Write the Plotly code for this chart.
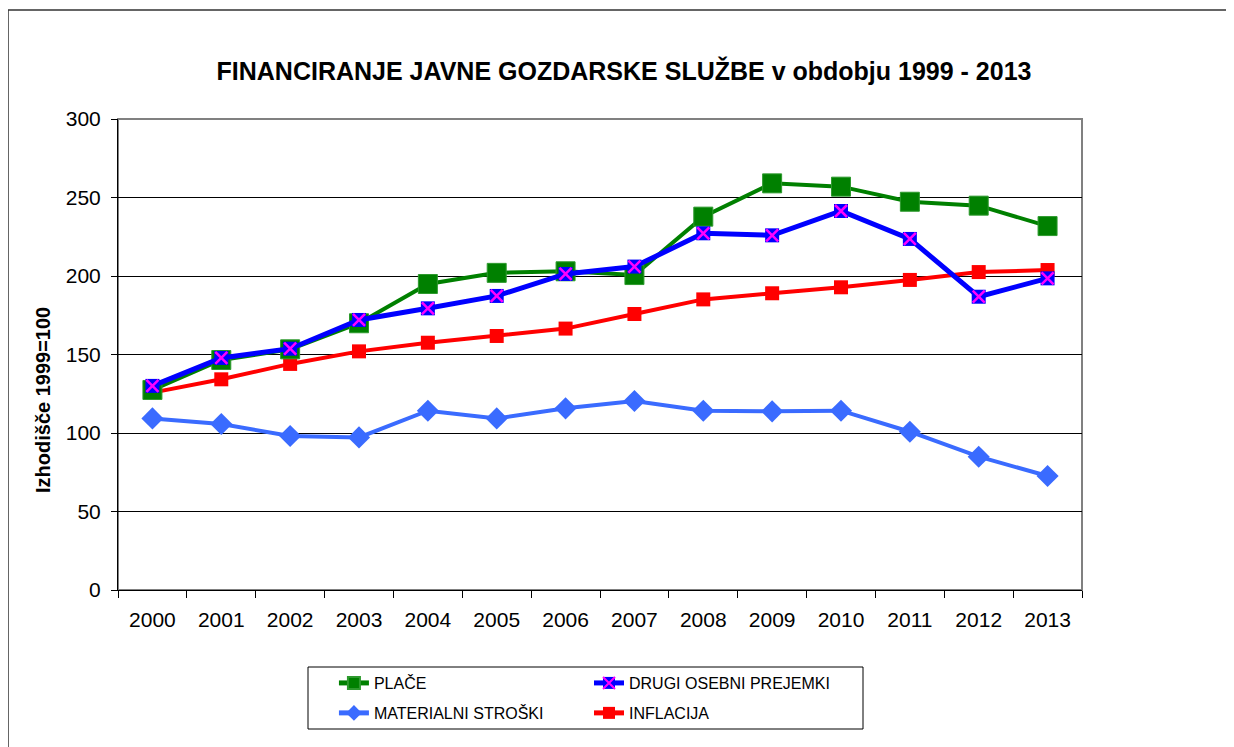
import plotly.graph_objects as go

years = ["2000", "2001", "2002", "2003", "2004", "2005", "2006", "2007",
         "2008", "2009", "2010", "2011", "2012", "2013"]
place = [127.4, 146.5, 153.3, 169.9, 194.9, 202.0, 203.0, 200.6, 237.8, 259.0, 256.9, 247.3, 244.8, 231.8]
drugi = [130.0, 147.8, 153.7, 172.0, 179.4, 187.3, 201.3, 206.0, 227.2, 225.9, 241.4, 223.6, 186.8, 198.5]
materialni = [109.3, 105.7, 98.1, 97.2, 114.2, 109.3, 115.7, 120.4, 114.2, 113.8, 114.2, 100.8, 84.9, 72.6]
inflacija = [125.7, 134.2, 144.0, 152.0, 157.5, 161.8, 166.5, 175.8, 185.1, 189.0, 192.8, 197.5, 202.5, 203.8]

names = ["PLAČE", "DRUGI OSEBNI PREJEMKI", "MATERIALNI STROŠKI", "INFLACIJA"]
title_text = "FINANCIRANJE JAVNE GOZDARSKE SLUŽBE v obdobju 1999 - 2013"
ytitle = "Izhodišče 1999=100"
yticks = [0, 50, 100, 150, 200, 250, 300]

FONT = "Liberation Sans, Arial, sans-serif"

fig = go.Figure()
fig.add_trace(go.Scatter(x=years, y=materialni, name=names[2], mode="lines+markers",
                         line=dict(color="#3A6BFF", width=4),
                         marker=dict(symbol="diamond", size=17, color="#3A6BFF"),
                         legend="legend3", showlegend=True))
fig.add_trace(go.Scatter(x=years, y=inflacija, name=names[3], mode="lines+markers",
                         line=dict(color="#FF0000", width=4),
                         marker=dict(symbol="square", size=14, color="#FF0000"),
                         legend="legend4", showlegend=True))
fig.add_trace(go.Scatter(x=years, y=place, name=names[0], mode="lines+markers",
                         line=dict(color="#008000", width=4),
                         marker=dict(symbol="square", size=19, color="#008000",
                                     line=dict(color="#2E9A2E", width=1)),
                         legend="legend", showlegend=True))
fig.add_trace(go.Scatter(x=years, y=drugi, name=names[1], mode="lines+markers",
                         line=dict(color="#0000FF", width=5),
                         marker=dict(symbol="square", size=14, color="#0000FF"),
                         legend="legend2", showlegend=True))
fig.add_trace(go.Scatter(x=years, y=drugi, name=" ", mode="markers",
                         marker=dict(symbol="x-thin-open", size=12, color="#FF00FF",
                                     line=dict(color="#FF00FF", width=2.5)),
                         legend="legend5", showlegend=True, hoverinfo="skip"))

lx1, lx2 = 0.224, 0.4886
ly1, ly2 = -0.1975, -0.2611
leg_common = dict(bgcolor="rgba(0,0,0,0)", borderwidth=0, yanchor="middle",
                  xanchor="left", itemsizing="constant",
                  font=dict(family=FONT, size=16, color="black"))

# page body adds 8px offset; compensate in margins
fig.update_layout(
    width=1234, height=747,
    margin=dict(l=110, r=160, t=111, b=165),
    showlegend=True,
    paper_bgcolor="white", plot_bgcolor="white",
    font=dict(family=FONT, color="black"),
    title=dict(text="<b>" + title_text + "</b>", x=(624 - 8) / 1234, xanchor="center",
               y=1 - (73 - 10) / 747, yanchor="middle",
               font=dict(family=FONT, size=25, color="black")),
    xaxis=dict(type="category", range=[-0.5, 13.5], tickson="boundaries",
               ticks="outside", ticklen=7, tickcolor="black", showline=True,
               linecolor="black", linewidth=1, showgrid=False,
               tickfont=dict(family=FONT, size=21, color="black"),
               ticklabelstandoff=11),
    yaxis=dict(range=[0, 300], tickvals=yticks, ticks="outside", ticklen=6,
               tickcolor="black", showline=True, linecolor="black", linewidth=1,
               showgrid=True, gridcolor="black", gridwidth=1, zeroline=False,
               tickfont=dict(family=FONT, size=21, color="black"),
               ticklabelstandoff=6),
    legend=dict(x=lx1, y=ly1, **leg_common),
    legend2=dict(x=lx2, y=ly1, **leg_common),
    legend3=dict(x=lx1, y=ly2, **leg_common),
    legend4=dict(x=lx2, y=ly2, **leg_common),
    legend5=dict(x=lx2, y=ly1, **leg_common),
    annotations=[dict(text="<b>" + ytitle + "</b>", xref="paper", yref="paper",
                      x=(30 - 118) / 964, y=(590 - 400) / 471, showarrow=False,
                      textangle=-90, font=dict(family=FONT, size=20, color="black"))],
    shapes=[
        dict(type="rect", xref="paper", yref="paper", x0=0, x1=1, y0=0, y1=1,
             line=dict(color="#808080", width=2), layer="below"),
        dict(type="rect", xref="paper", yref="paper",
             x0=(308 - 118) / 964, x1=(863 - 118) / 964,
             y0=(590 - 667) / 471, y1=(590 - 729) / 471,
             line=dict(color="black", width=1)),
        dict(type="rect", xref="paper", yref="paper",
             x0=(8 - 118) / 964, x1=(1260 - 118) / 964,
             y0=(590 - 10) / 471, y1=(590 - 770) / 471,
             line=dict(color="#333333", width=1.5)),
    ],
)

fig.write_html("out.html")
